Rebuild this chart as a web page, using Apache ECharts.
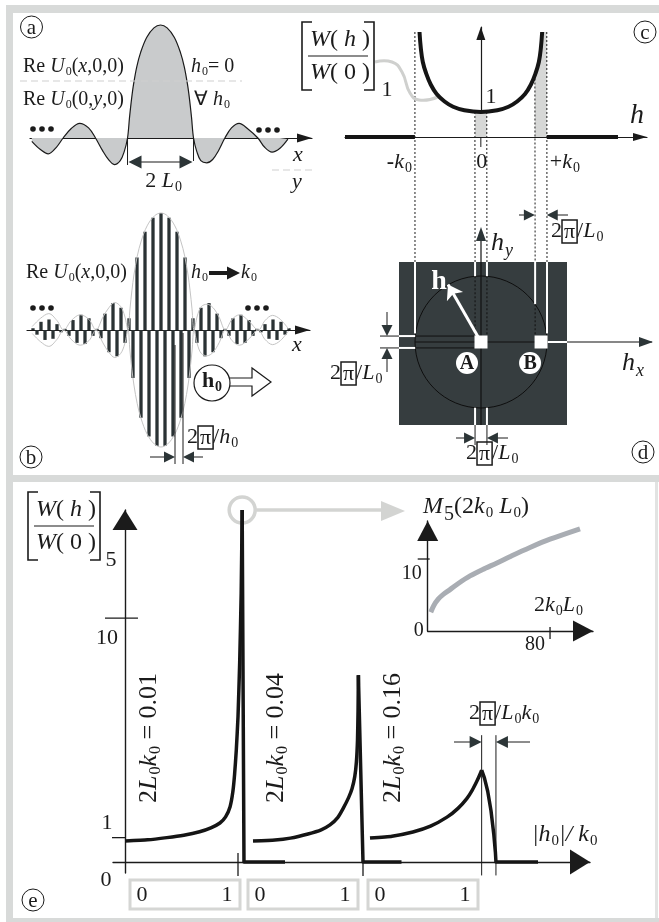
<!DOCTYPE html>
<html>
<head>
<meta charset="utf-8">
<title>Wave packet spectra</title>
<script src="https://cdn.jsdelivr.net/npm/echarts@6/dist/echarts.min.js"></script>
<style>
  html, body { margin: 0; padding: 0; background: #ffffff; }
  #chart { width: 659px; height: 922px; }
</style>
</head>
<body>
<div id="chart"></div>
<script>
// ---------------- data ----------------
// (a) Re U0 along x for h0 = 0, x in units of L0
const profileA = [
  [-3.9, -0.03], [-3.65, -0.1], [-3.4, -0.14], [-3.15, -0.08], [-2.95, 0], [-2.72, 0.08], [-2.45, 0.13],
  [-2.18, 0.09], [-1.97, 0], [-1.76, -0.11], [-1.58, -0.19], [-1.4, -0.235], [-1.22, -0.2], [-1.1, -0.12],
  [-1.0, 0], [-0.94, 0.18], [-0.88, 0.34], [-0.82, 0.47], [-0.72, 0.63], [-0.6, 0.76], [-0.42, 0.89],
  [-0.2, 0.975], [0, 1], [0.2, 0.975], [0.42, 0.89], [0.6, 0.76], [0.72, 0.63], [0.82, 0.47], [0.88, 0.34],
  [0.94, 0.18], [1.0, 0], [1.1, -0.12], [1.22, -0.2], [1.4, -0.22], [1.58, -0.19], [1.76, -0.11], [1.95, 0],
  [2.15, 0.09], [2.38, 0.13], [2.65, 0.08], [2.95, 0], [3.15, -0.08], [3.38, -0.125], [3.62, -0.09], [3.86, -0.01]
];

// (b) carrier lobes of Re U0(x,0,0) for h0 -> k0, one value per half period
const carrierB = [
  0, 0.015, -0.04, 0.07, -0.085, 0.09, -0.075, 0.05, -0.02, 0.01, -0.05, 0.085, -0.11, 0.13, -0.12, 0.10, -0.05,
  0.01, -0.07, 0.14, -0.19, 0.23, -0.225, 0.19, -0.11, 0.10, -0.41, 0.62, -0.75, 0.84, -0.91, 0.96, -0.99,
  1.0, -0.99, 0.96, -0.91, 0.84, -0.75, 0.62, -0.41, 0.10, -0.11, 0.19, -0.225, 0.23, -0.19, 0.14, -0.07,
  0.01, -0.05, 0.10, -0.12, 0.13, -0.11, 0.085, -0.05, 0.01, -0.02, 0.05, -0.075, 0.09, -0.085, 0.07, -0.04, 0.015
];

// (c) W(h)/W(0) inside |h| < k0 (h in units of k0)
const spectrumC = [
  [-0.93, 4.2], [-0.91, 3.55], [-0.88, 3.0], [-0.83, 2.55], [-0.76, 2.1], [-0.67, 1.72], [-0.55, 1.42],
  [-0.42, 1.21], [-0.25, 1.07], [0, 1.0], [0.25, 1.07], [0.42, 1.21], [0.55, 1.42], [0.67, 1.72],
  [0.76, 2.1], [0.83, 2.55], [0.88, 3.0], [0.91, 3.55], [0.93, 4.2]
];
const zeroLeftC = [[-2.06, 0], [-1, 0]];
const zeroRightC = [[1, 0], [2.08, 0]];
const bandCentreC = [[-0.09, 1.0], [0.09, 1.0]];
const bandEdgeC = [[0.82, 2.5], [0.85, 2.75], [0.88, 3.0], [0.91, 3.55], [0.93, 4.2], [1.0, 4.2]];
const guidesC = [[-1, 4.2], [-0.09, 1.0], [0.09, 1.0], [0.82, 2.5], [1, 4.2]];
const axisLabelsC = [[-1, '{b|-}{i|k}{s|0}'], [0, '0'], [1, '{r|+}{i|k}{s|0}']];

// (d) wave-vector plane
const k0 = 1;
const pointsD = [[0, 0], [0.91, 0]];
const namesD = ['A', 'B'];
const vectorD = [[0, 0], [-0.5, 0.87]];

// (e) W(h)/W(0) against |h0|/k0 for three packet widths
const ratiosE = ['0.01', '0.04', '0.16'];
const curveE1 = [[0, 0.86], [0.2, 0.91], [0.37, 1.0], [0.52, 1.1], [0.66, 1.24], [0.76, 1.4], [0.84, 1.6],
  [0.89, 1.85], [0.93, 2.27], [0.955, 2.9], [0.97, 3.6], [0.985, 4.6], [1.0, 5.95], [1.015, 8.2],
  [1.028, 11.0], [1.037, 14.43], [1.053, 0], [1.416, 0]];
const curveE2 = [[0, 0.86], [0.2, 0.9], [0.34, 0.98], [0.5, 1.15], [0.62, 1.32], [0.7, 1.52], [0.77, 1.82],
  [0.82, 2.2], [0.87, 2.65], [0.9, 3.0], [0.925, 3.5], [0.94, 4.1], [0.95, 5.0], [0.955, 6.2], [0.958, 7.66],
  [1.0, 0], [1.35, 0]];
const curveE3 = [[0, 0.98], [0.2, 1.06], [0.39, 1.23], [0.55, 1.47], [0.7, 1.84], [0.8, 2.2], [0.88, 2.6],
  [0.93, 2.95], [0.97, 3.3], [1.0, 3.6], [1.015, 3.77], [1.04, 3.45], [1.07, 2.9], [1.1, 2.1], [1.125, 1.15],
  [1.14, 0.4], [1.145, 0], [1.545, 0]];
const ticksE = [1, 10];
// inset: M5 against 2 k0 L0
const insetM5 = [[2, 2.6], [4, 3.55], [7, 4.45], [10, 5.05], [14.6, 5.75], [20, 6.6], [27.7, 7.65], [36, 8.55],
  [45.3, 9.45], [55, 10.45], [66.9, 11.6], [80, 12.75], [99.6, 14.2]];
const insetTicksX = [80];
const insetTicksY = [10];

// ---------------- styling ----------------
const INK = '#1b1b1b';
const DARK = '#2c3537';
const FRAME = '#d8dad9';
const SERIF = "'Liberation Serif', 'Times New Roman', serif";

function axis(gridIndex, min, max, line) {
  const a = { type: 'value', gridIndex, min, max, axisTick: { show: false }, axisLabel: { show: false },
    splitLine: { show: false } };
  if (!line) { a.show = false; return a; }
  a.axisLine = { show: true, onZero: true, lineStyle: { color: INK, width: line.w || 1.2 },
    symbol: ['none', 'triangle'], symbolSize: line.size, symbolOffset: [0, -line.size[1] / 2] };
  return a;
}

const grids = [
  { left: 30, top: 25, width: 282, height: 143 },        // 0 a
  { left: 27, top: 213, width: 264, height: 234 },       // 1 b carrier
  { left: 27, top: 213, width: 283, height: 234 },       // 2 b envelope / axis
  { left: 345, top: 27, width: 302, height: 110 },       // 3 c
  { left: 399, top: 262, width: 168, height: 163, show: true, backgroundColor: '#363d3f', borderWidth: 0 }, // 4 d
  { left: 113, top: 510, width: 477, height: 363 },      // 5 e axes
  { left: 125, top: 510, width: 169.5, height: 363 },    // 6 e first
  { left: 253, top: 510, width: 165, height: 363 },      // 7 e second
  { left: 370, top: 510, width: 165, height: 363 },      // 8 e third
  { left: 427.7, top: 521, width: 165.3, height: 110 }   // 9 inset
];

const xAxes = [
  axis(0, -3.955, 4.59, { size: [9, 15] }),
  { type: 'category', gridIndex: 1, data: carrierB.map((_, i) => String(i)), show: false },
  axis(2, -4.06, 4.515, { size: [9, 15] }),
  axis(3, -2.06, 2.52, { size: [8, 14] }),
  axis(4, -1.2424, 1.303),
  axis(5, -0.106, 4.115, { size: [25, 20], w: 1.4 }),
  axis(6, 0, 1.5), axis(7, 0, 1.5), axis(8, 0, 1.5),
  axis(9, 0, 108.1, { size: [21, 20], w: 1.4 })
];
const yAxes = [
  axis(0, -0.2655, 1), axis(1, -1, 1), axis(2, -1, 1),
  axis(3, 0, 4.4, { size: [9, 13] }),
  axis(4, -1.2576, 1.2121),
  axis(5, -0.45, 14.43, { size: [25, 20], w: 1.4 }),
  axis(6, -0.45, 14.43), axis(7, -0.45, 14.43), axis(8, -0.45, 14.43),
  axis(9, 0, 15.28, { size: [21, 20], w: 1.4 })
];

const series = [];
function lineSeries(ix, data, style, extra) {
  series.push(Object.assign({ type: 'line', xAxisIndex: ix, yAxisIndex: ix, data, showSymbol: false,
    symbol: 'none', clip: false, lineStyle: style, silent: true }, extra || {}));
}
// (a)
lineSeries(0, profileA, { color: INK, width: 1.2 }, { smooth: 0.35, areaStyle: { color: '#c9cbcc', opacity: 1 } });
// (b)
series.push({ type: 'bar', xAxisIndex: 1, yAxisIndex: 1, data: carrierB, barWidth: 3.3,
  itemStyle: { color: '#2a3234', opacity: 1 }, silent: true, z: 3 });
lineSeries(2, profileA.map(p => [p[0], Math.abs(p[1])]), { color: '#c4c4c4', width: 1 }, { smooth: 0.35 });
lineSeries(2, profileA.map(p => [p[0], -Math.abs(p[1])]), { color: '#c4c4c4', width: 1 }, { smooth: 0.35 });
// (c)
lineSeries(3, bandCentreC, { width: 0 }, { areaStyle: { color: '#d6d7d6', opacity: 1 }, z: 1 });
lineSeries(3, bandEdgeC, { width: 0 }, { areaStyle: { color: '#d6d7d6', opacity: 1 }, z: 1 });
lineSeries(3, spectrumC, { color: '#151515', width: 4 }, { smooth: 0.4, z: 3 });
lineSeries(3, zeroLeftC, { color: '#151515', width: 4 }, { z: 3 });
lineSeries(3, zeroRightC, { color: '#151515', width: 4 }, { z: 3 });
// (d)
series.push({ type: 'scatter', xAxisIndex: 4, yAxisIndex: 4, data: pointsD, symbol: 'rect', symbolSize: 13,
  itemStyle: { color: '#ffffff', opacity: 1 }, silent: true, z: 4 });
series.push({ type: 'lines', coordinateSystem: 'cartesian2d', xAxisIndex: 4, yAxisIndex: 4,
  data: [{ coords: vectorD }], lineStyle: { color: '#ffffff', width: 3, opacity: 1 },
  symbol: ['none', 'arrow'], symbolSize: 14, silent: true, z: 4 });
// (e)
const curvesE = [curveE1, curveE2, curveE3];
const peaksE = curvesE.map(c => c.reduce((best, p, i) => (p[1] > c[best][1] ? i : best), 0));
curvesE.forEach((c, k) => {
  const pk = peaksE[k];
  lineSeries(6 + k, c.slice(0, pk + 1), { color: '#151515', width: 3.5, join: 'round' }, { smooth: 0.15, z: 3 });
  lineSeries(6 + k, c.slice(pk), { color: '#151515', width: 3.5, join: 'round' }, { z: 3 });
});
lineSeries(9, insetM5, { color: '#a9adb3', width: 5 }, { smooth: 0.3, z: 3 });

const chart = echarts.init(document.getElementById('chart'), null, { renderer: 'canvas', width: 659, height: 922 });
chart.setOption({ animation: false, backgroundColor: '#ffffff', grid: grids, xAxis: xAxes, yAxis: yAxes, series });

// ---------------- annotations ----------------
const P = (g, x, y) => chart.convertToPixel({ gridIndex: g }, [x, y]);
const G = [];

function richStyles(fs, color) {
  const base = { fontFamily: SERIF, fontSize: fs, fill: color, verticalAlign: 'top' };
  const sub = Math.round(fs * 0.62);
  const drop = Math.round(fs * 0.45);
  return {
    r: Object.assign({}, base),
    i: Object.assign({}, base, { fontStyle: 'italic' }),
    b: Object.assign({}, base, { fontWeight: 'bold' }),
    s: Object.assign({}, base, { fontSize: sub, padding: [drop, 0, 0, 1] }),
    si: Object.assign({}, base, { fontSize: Math.round(fs * 0.7), fontStyle: 'italic', padding: [drop, 0, 0, 1] }),
    bs: Object.assign({}, base, { fontSize: sub, fontWeight: 'bold', padding: [drop, 0, 0, 1] }),
    S: Object.assign({}, base, { fontSize: Math.round(fs * 0.85), padding: [Math.round(fs * 0.4), 0, 0, 1] }),
    x: Object.assign({}, base, { borderColor: color, borderWidth: 1.5, padding: [1, 2, 0, 2] })
  };
}
function txt(x, y, text, o) {
  o = o || {};
  const fs = o.size || 20, color = o.color || INK;
  G.push({ type: 'text', x, y, rotation: o.rot || 0, z: o.z || 8, silent: true,
    style: { text, rich: richStyles(fs, color), fontFamily: SERIF, fontSize: fs, fill: color,
      fontWeight: o.bold ? 'bold' : 'normal', align: o.align || 'left', verticalAlign: o.valign || 'top' } });
}
function seg(a, b, style, z) {
  G.push({ type: 'line', z: z == null ? 5 : z, silent: true, shape: { x1: a[0], y1: a[1], x2: b[0], y2: b[1] },
    style: Object.assign({ stroke: INK, lineWidth: 1 }, style || {}) });
}
function head(tip, ang, len, half, fill, z) {
  const c = Math.cos(ang), s = Math.sin(ang);
  const bx = tip[0] - c * len, by = tip[1] - s * len;
  G.push({ type: 'polygon', z: z == null ? 6 : z, silent: true,
    shape: { points: [tip, [bx - s * half, by + c * half], [bx + s * half, by - c * half]] },
    style: { fill: fill || DARK } });
}
function arrowTo(from, to, len, half, width, fill) {
  const ang = Math.atan2(to[1] - from[1], to[0] - from[0]);
  seg(from, [to[0] - Math.cos(ang) * len * 0.8, to[1] - Math.sin(ang) * len * 0.8], { lineWidth: width || 1 });
  head(to, ang, len, half, fill);
}
function rect(x, y, w, h, style, z) {
  G.push({ type: 'rect', z: z == null ? 0 : z, silent: true, shape: { x, y, width: w, height: h }, style });
}
function circle(cx, cy, r, style, z) {
  G.push({ type: 'circle', z: z == null ? 6 : z, silent: true, shape: { cx, cy, r }, style });
}
function dots(x, y) {
  for (let i = 0; i < 3; i++) circle(x + 3 + i * 9, y, 2.8, { fill: INK });
}
function badge(cx, cy, ch) {
  circle(cx, cy, 11, { fill: '#ffffff', stroke: INK, lineWidth: 1 }, 7);
  txt(cx, cy + 1, ch, { size: 21, align: 'center', valign: 'middle' });
}
function bracketLabel(x0, y0) {
  G.push({ type: 'polyline', z: 6, silent: true, shape: { points: [[x0 + 10, y0], [x0, y0], [x0, y0 + 68], [x0 + 10, y0 + 68]] },
    style: { stroke: INK, lineWidth: 1.6, fill: 'none' } });
  G.push({ type: 'polyline', z: 6, silent: true, shape: { points: [[x0 + 62, y0], [x0 + 72, y0], [x0 + 72, y0 + 68], [x0 + 62, y0 + 68]] },
    style: { stroke: INK, lineWidth: 1.6, fill: 'none' } });
  seg([x0 + 6, y0 + 34], [x0 + 66, y0 + 34], { lineWidth: 1.2 });
  txt(x0 + 38, y0 + 18, '{i|W}{r|( }{i|h}{r| )}', { size: 24, align: 'center', valign: 'middle' });
  txt(x0 + 38, y0 + 51, '{i|W}{r|( 0 )}', { size: 24, align: 'center', valign: 'middle' });
}

// frame
rect(6, 5, 653, 8, { fill: FRAME });
rect(6, 5, 7, 917, { fill: FRAME });
rect(13, 475, 646, 7, { fill: FRAME });
rect(6, 918, 653, 4, { fill: FRAME });
rect(655, 482, 3, 436, { fill: '#e2e3e2' });

// ----- (a)
badge(31.5, 27, 'a');
txt(23, 57, '{r|Re }{i|U}{s|0}{r|(}{i|x}{r|,0,0)}', { size: 20 });
txt(23, 90, '{r|Re }{i|U}{s|0}{r|(0,}{i|y}{r|,0)}', { size: 20 });
txt(191, 57, '{i|h}{s|0}{r|= 0}', { size: 20 });
txt(194, 90, '{r|∀ }{i|h}{s|0}', { size: 20 });
seg([20, 81], [242, 81], { stroke: '#cfcfcf', lineDash: [7, 4] });
seg([272, 170], [315, 170], { stroke: '#cfcfcf', lineDash: [7, 4] });
txt(298, 155, '{i|x}', { size: 22, align: 'center', valign: 'middle' });
txt(297, 182, '{i|y}', { size: 22, align: 'center', valign: 'middle' });
dots(30, 129); dots(256, 130);
{
  const zl = P(0, -1, 0), zr = P(0, 1, 0);
  seg(zl, [zl[0], zl[1] + 27]);
  seg(zr, [zr[0], zr[1] + 23]);
  const yy = zl[1] + 24;
  seg([zl[0] + 10, yy], [zr[0] - 10, yy], { lineWidth: 1.2 });
  head([zl[0] + 1, yy], Math.PI, 13, 6.5);
  head([zr[0] - 1, yy], 0, 13, 6.5);
  txt((zl[0] + zr[0]) / 2 + 3, yy + 20, '{r|2 }{i|L}{s|0}', { size: 22, align: 'center', valign: 'middle' });
}

// ----- (b)
badge(31, 457, 'b');
txt(26, 263, '{r|Re }{i|U}{s|0}{r|(}{i|x}{r|,0,0)}', { size: 20 });
txt(191, 263, '{i|h}{s|0}', { size: 20 });
seg([209, 273], [229, 273], { lineWidth: 4 });
head([240, 273], 0, 13, 6.5, INK);
txt(241, 263, '{i|k}{s|0}', { size: 20 });
dots(30, 308); dots(245, 308);
txt(297, 345, '{i|x}', { size: 22, align: 'center', valign: 'middle' });
G.push({ type: 'polygon', z: 6, silent: true,
  shape: { points: [[228, 378], [252, 378], [252, 368], [271, 382], [252, 396], [252, 386], [228, 386]] },
  style: { fill: '#ffffff', stroke: INK, lineWidth: 1.2 } });
circle(212, 383, 18, { fill: '#ffffff', stroke: INK, lineWidth: 1.2 }, 7);
txt(212, 382, '{b|h}{bs|0}', { size: 22, align: 'center', valign: 'middle' });
{
  const x1 = P(1, 36, 0)[0] + 2, x2 = P(1, 38, 0)[0] + 2;
  seg([x1, 345], [x1, 464]);
  seg([x2, 333], [x2, 464]);
  arrowTo([150, 457], [x1, 457], 11, 5.5);
  arrowTo([203, 457], [x2, 457], 11, 5.5);
  txt(x2 + 4, 426, '{r|2}{x|π}{r|/}{i|h}{s|0}', { size: 22 });
}

// ----- (c)
badge(645, 32, 'c');
bracketLabel(302, 22);
txt(387, 90, '1', { size: 22, align: 'center', valign: 'middle' });
G.push({ type: 'polyline', z: 2, silent: true,
  shape: { points: [[375, 62], [392, 62], [402, 72], [410, 93], [419, 100], [438, 97]], smooth: 0.5 },
  style: { stroke: '#cfd0ce', lineWidth: 3, fill: 'none' } });
txt(491, 97, '1', { size: 22, align: 'center', valign: 'middle' });
txt(637, 116, '{i|h}', { size: 28, align: 'center', valign: 'middle' });
{
  const o = P(3, 0, 0);
  seg(o, [o[0], o[1] + 10]);
  axisLabelsC.forEach(([h, t]) => {
    const p = P(3, h, 0);
    if (h < 0) txt(p[0] - 3, p[1] + 14, t, { size: 22, align: 'right' });
    else if (h > 0) txt(p[0] + 3, p[1] + 14, t, { size: 22 });
    else txt(p[0] + 1, p[1] + 14, t, { size: 22, align: 'center' });
  });
}

// ----- (d)
badge(643, 452, 'd');
{
  const D = (x, y) => P(4, x, y);
  const top = 1.2121, bot = -1.2576, left = -1.2424, right = 1.303;
  const c0 = D(0, 0), rad = D(k0, 0)[0] - c0[0];
  circle(c0[0], c0[1], rad, { fill: 'none', stroke: '#0e0e0e', lineWidth: 1 }, 1);
  const band = guidesC[2][0];
  guidesC.forEach(([h, v]) => {
    const a = P(3, h, v), b = D(h, top);
    seg([a[0], a[1]], [b[0], b[1]], { lineDash: [2, 2], lineWidth: 1 }, 1);
    const yIn = Math.max(Math.sqrt(Math.max(0, 1 - h * h)), 0.13);
    seg(D(h, top), D(h, yIn), { stroke: '#ffffff', lineWidth: 2 }, 1);
    if (yIn > 0.2) seg(D(h, yIn), D(h, 0.1), { stroke: '#111111', lineDash: [2, 2] }, 1);
  });
  [-band, band].forEach(h => {
    const yb = -Math.sqrt(1 - h * h);
    seg(D(h, bot), D(h, yb), { stroke: '#ffffff', lineWidth: 2 }, 1);
    seg(D(h, bot), [D(h, bot)[0], D(h, bot)[1] + 20], { lineWidth: 1 }, 1);
    const xl = -Math.sqrt(1 - h * h);
    seg(D(left, h), D(xl, h), { stroke: '#ffffff', lineWidth: 2 }, 1);
    seg(D(xl, h), D(-0.1, h), { stroke: '#111111', lineWidth: 1 }, 1);
    seg([380, D(left, h)[1]], D(left, h), { lineWidth: 1 }, 1);
  });
  // axes
  seg(D(-1, 0), [652, c0[1]], { lineWidth: 1.2, stroke: '#111111' }, 1);
  head([653, c0[1]], 0, 14, 5);
  seg(D(pointsD[1][0] + 0.1, 0), D(right, 0), { stroke: '#ffffff', lineWidth: 2 }, 2);
  seg(D(0, bot), [c0[0], 240], { lineWidth: 1.2, stroke: '#111111' }, 1);
  head([c0[0], 227], -Math.PI / 2, 14, 5);
  txt(491, 230, '{i|h}{si|y}', { size: 26 });
  txt(622, 350, '{i|h}{si|x}', { size: 26 });
  // labels of the marked points
  pointsD.forEach((p, i) => {
    const q = D(p[0], p[1]);
    const cx = q[0] - (i === 0 ? 14 : 11), cy = q[1] + 21;
    circle(cx, cy, 11, { fill: '#ffffff' }, 7);
    txt(cx, cy + 1, namesD[i], { size: 20, bold: true, align: 'center', valign: 'middle' });
  });
  const tip = D(vectorD[1][0], vectorD[1][1]);
  txt(tip[0] - 9, tip[1] - 3, 'h', { size: 28, bold: true, color: '#ffffff', align: 'center', valign: 'middle' });
  // width markers 2π/L0
  const gx1 = P(3, guidesC[3][0], 0)[0], gx2 = P(3, guidesC[4][0], 0)[0];
  arrowTo([519, 215], [gx1, 215], 11, 5.5);
  arrowTo([568, 215], [gx2, 215], 11, 5.5);
  txt(551, 220, '{r|2}{x|π}{r|/}{i|L}{s|0}', { size: 22 });
  const yu = D(0, band)[1], yd = D(0, -band)[1];
  arrowTo([387, 312], [387, yu], 11, 5.5);
  arrowTo([387, 372], [387, yd], 11, 5.5);
  txt(330, 362, '{r|2}{x|π}{r|/}{i|L}{s|0}', { size: 22 });
  const xa = D(-band, 0)[0], xb = D(band, 0)[0];
  arrowTo([456, 438], [xa, 438], 11, 5.5);
  arrowTo([508, 438], [xb, 438], 11, 5.5);
  txt(466, 442, '{r|2}{x|π}{r|/}{i|L}{s|0}', { size: 22 });
}

// ----- (e)
badge(33, 900, 'e');
bracketLabel(28, 492);
txt(111, 560, '5', { size: 22, align: 'center', valign: 'middle' });
{
  const E = (x, y) => P(5, x, y);
  const t1 = E(0, ticksE[0]), t10 = E(0, ticksE[1]), o = E(0, 0);
  seg([t1[0] - 13, t1[1]], t1, { lineWidth: 1.3 });
  seg([t10[0] - 20, t10[1]], [t10[0] + 13, t10[1]], { lineWidth: 1.3 });
  txt(t1[0] - 18, t1[1] - 14, String(ticksE[0]), { size: 22, align: 'center', valign: 'middle' });
  txt(t10[0] - 18, t10[1] + 20, String(ticksE[1]), { size: 22, align: 'center', valign: 'middle' });
  txt(o[0] - 19, o[1] + 18, '0', { size: 22, align: 'center', valign: 'middle' });
  [6, 7].forEach(g => {
    const p = P(g, 1, 0);
    seg([p[0], p[1] - 9], [p[0], p[1] + 14], { lineWidth: 1.3 });
  });
  // peak marker and link to the inset
  const pk = curveE1[peaksE[0]], pp = P(6, pk[0], pk[1]);
  circle(pp[0], pp[1], 13, { fill: 'none', stroke: '#d3d4d2', lineWidth: 3.5 }, 2);
  seg([pp[0] + 14, pp[1]], [384, pp[1]], { stroke: '#d3d4d2', lineWidth: 3.5 }, 2);
  head([405, pp[1] + 1], 0, 24, 10, '#d3d4d2', 2);
  // width of the third peak
  const p3 = curveE3[peaksE[2]];
  const d3 = curveE3.find((p, i) => i > peaksE[2] && p[1] === 0);
  const xA = P(8, p3[0], 0)[0], xB = P(8, d3[0], 0)[0];
  seg([xA, P(8, 0, 5.2)[1]], [xA, P(8, 0, -0.55)[1]], { lineWidth: 1 });
  seg([xB, P(8, 0, 5.2)[1]], [xB, P(8, 0, -0.55)[1]], { lineWidth: 1 });
  arrowTo([454, 742], [xA, 742], 12, 6);
  arrowTo([530, 742], [xB, 742], 12, 6);
  txt(469, 702, '{r|2}{x|π}{r|/}{i|L}{s|0}{i|k}{s|0}', { size: 22 });
  // packet widths
  [6, 7, 8].forEach((g, k) => {
    const x = P(g, 0.22, 0)[0];
    txt(x, 738, '{r|2}{i|L}{s|0}{i|k}{s|0}{r| = ' + ratiosE[k] + '}', { size: 26, rot: Math.PI / 2, align: 'center', valign: 'middle' });
  });
  txt(532, 823, '{i||h}{s|0}{i||/ k}{s|0}', { size: 24 });
  [130, 248, 368].forEach(bx => {
    rect(bx, 880, 110, 29, { fill: 'none', stroke: '#d5d6d4', lineWidth: 3 }, 2);
    txt(bx + 12, 895, '0', { size: 22, align: 'center', valign: 'middle' });
    txt(bx + 97, 895, '1', { size: 22, align: 'center', valign: 'middle' });
  });
  // inset
  const I = (x, y) => P(9, x, y);
  insetTicksY.forEach(v => {
    const p = I(0, v);
    seg([p[0] - 10, p[1]], [p[0] + 2, p[1]], { lineWidth: 1.3 });
    txt(p[0] - 16, p[1] + 15, String(v), { size: 20, align: 'center', valign: 'middle' });
  });
  insetTicksX.forEach(v => {
    const p = I(v, 0);
    seg([p[0], p[1] - 4], [p[0], p[1] + 8], { lineWidth: 1.3 });
    txt(p[0] - 15, p[1] + 14, String(v), { size: 20, align: 'center', valign: 'middle' });
  });
  const io = I(0, 0);
  txt(io[0] - 9, io[1], '0', { size: 20, align: 'center', valign: 'middle' });
  txt(423, 495, '{i|M}{S|5}{r|(2}{i|k}{s|0}{i| L}{s|0}{r|)}', { size: 24 });
  txt(534, 594, '{r|2}{i|k}{s|0}{i|L}{s|0}', { size: 22 });
}

chart.setOption({ graphic: G });
</script>
</body>
</html>
